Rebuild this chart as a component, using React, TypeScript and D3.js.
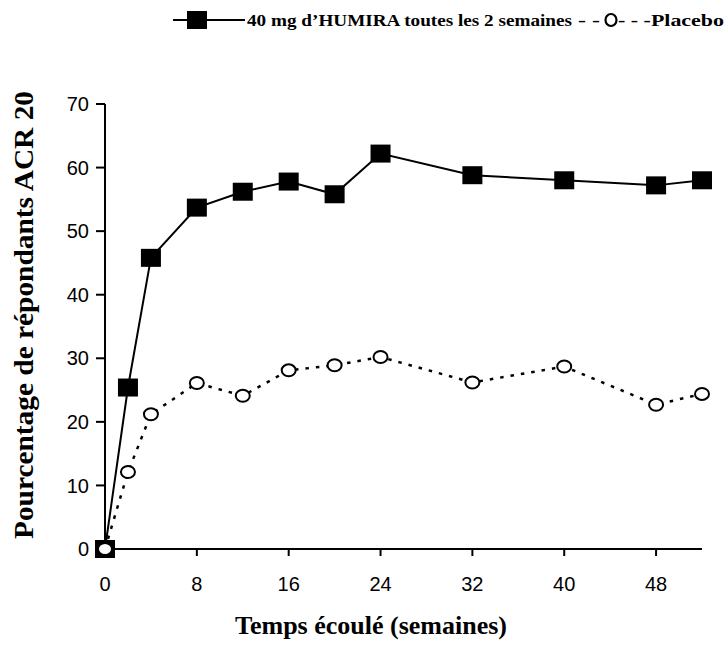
import React from "react";
import * as d3 from "d3";

const weeks = [0, 2, 4, 8, 12, 16, 20, 24, 32, 40, 48, 52];
const humira = [0, 25.4, 45.8, 53.7, 56.2, 57.8, 55.8, 62.2, 58.8, 58.0, 57.2, 58.0];
const placebo = [0, 12.1, 21.2, 26.1, 24.1, 28.1, 28.9, 30.2, 26.2, 28.7, 22.7, 24.4];
const xTicks = [0, 8, 16, 24, 32, 40, 48];
const yTicks = [0, 10, 20, 30, 40, 50, 60, 70];
const legendHumira = "40 mg d\u2019HUMIRA toutes les 2 semaines";
const legendPlacebo = "Placebo";
const yTitle = "Pourcentage de r\u00e9pondants ACR 20";
const xTitle = "Temps \u00e9coul\u00e9 (semaines)";

const W = 728;
const H = 651;
const serif = "'Liberation Serif', 'Times New Roman', serif";
const sans = "'Liberation Sans', Arial, sans-serif";

export default function App() {
  const x = d3.scaleLinear().domain([0, 52]).range([105, 702]);
  const y = d3.scaleLinear().domain([0, 70]).range([549, 104]);
  const lineGen = d3
    .line<number>()
    .x((_, i) => x(weeks[i]))
    .y((d) => y(d));
  return (
    <svg
      width={W}
      height={H}
      style={{ position: "absolute", left: 0, top: 0, background: "#fff" }}
    >
      {/* legend */}
      <line x1={173} x2={245} y1={20} y2={20} stroke="#000" strokeWidth={2} />
      <rect x={187} y={11} width={20} height={18} fill="#000" />
      <text
        x={247}
        y={26}
        fontFamily={serif}
        fontWeight="bold"
        fontSize={17}
        fill="#000"
        textLength={325}
        lengthAdjust="spacingAndGlyphs"
      >
        {legendHumira}
      </text>
      <text
        x={578}
        y={26}
        fontFamily={serif}
        fontWeight="bold"
        fontSize={17}
        fill="#000"
        textLength={22}
        lengthAdjust="spacingAndGlyphs"
      >
        {"- -"}
      </text>
      <ellipse cx={611} cy={20} rx={5.5} ry={6} fill="#fff" stroke="#000" strokeWidth={2.2} />
      <text
        x={618}
        y={26}
        fontFamily={serif}
        fontWeight="bold"
        fontSize={17}
        fill="#000"
        textLength={106}
        lengthAdjust="spacingAndGlyphs"
      >
        {"- - -" + legendPlacebo}
      </text>

      {/* axes */}
      <line x1={x(0)} x2={x(0)} y1={y(70)} y2={y(0)} stroke="#000" strokeWidth={2} />
      <line x1={x(0)} x2={x(52)} y1={y(0)} y2={y(0)} stroke="#000" strokeWidth={2} />
      {yTicks.map((t) => (
        <g key={"y" + t}>
          <line x1={x(0) - 9} x2={x(0)} y1={y(t)} y2={y(t)} stroke="#000" strokeWidth={2} />
          <text
            x={89}
            y={y(t)}
            dy="0.36em"
            textAnchor="end"
            fontFamily={sans}
            fontSize={20}
            fill="#000"
          >
            {t}
          </text>
        </g>
      ))}
      {xTicks.map((t) => (
        <g key={"x" + t}>
          {t > 0 && (
            <line x1={x(t)} x2={x(t)} y1={y(0)} y2={y(0) + 7} stroke="#000" strokeWidth={2} />
          )}
          <text x={x(t)} y={591} textAnchor="middle" fontFamily={sans} fontSize={20} fill="#000">
            {t}
          </text>
        </g>
      ))}

      {/* placebo line */}
      <path
        d={lineGen(placebo) || ""}
        fill="none"
        stroke="#000"
        strokeWidth={2.5}
        strokeDasharray="3.5 7"
      />
      {/* humira line */}
      <path d={lineGen(humira) || ""} fill="none" stroke="#000" strokeWidth={2} />

      {humira.map((v, i) => (
        <rect
          key={"h" + i}
          x={x(weeks[i]) - 10}
          y={y(v) - 9}
          width={20}
          height={18}
          fill="#000"
        />
      ))}
      {placebo.map((v, i) => (
        <ellipse
          key={"p" + i}
          cx={x(weeks[i])}
          cy={y(v)}
          rx={7}
          ry={6}
          fill="#fff"
          stroke="#000"
          strokeWidth={2}
        />
      ))}

      {/* titles */}
      <text
        transform={`translate(33, 315) rotate(-90)`}
        textAnchor="middle"
        fontFamily={serif}
        fontWeight="bold"
        fontSize={27}
        fill="#000"
        textLength={448}
        lengthAdjust="spacingAndGlyphs"
      >
        {yTitle}
      </text>
      <text
        x={371}
        y={634}
        textAnchor="middle"
        fontFamily={serif}
        fontWeight="bold"
        fontSize={26}
        fill="#000"
      >
        {xTitle}
      </text>
    </svg>
  );
}
